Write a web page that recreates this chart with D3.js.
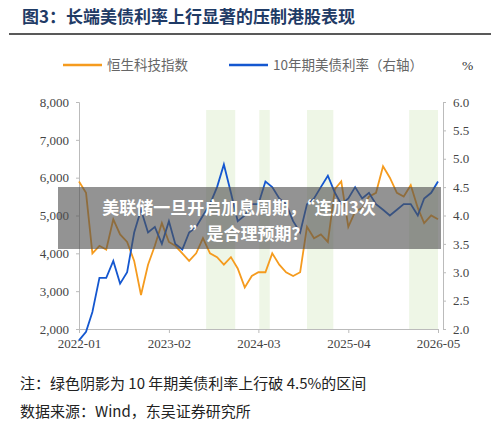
<!DOCTYPE html>
<html><head><meta charset="utf-8">
<script src="https://cdn.jsdelivr.net/npm/d3@7"></script>
<style>body{margin:0;background:#fff}svg{display:block}</style>
</head><body>
<svg id="chart" width="500" height="438"></svg>
<script>
// monthly readings, 2022-01 .. 2026-05
var months = d3.range(53).map(function(i){ return new Date(2022, i, 1); });
var hstech = [5900,5600,4000,4200,4100,4900,4500,4300,3800,2900,3700,4200,4800,4300,4200,4000,3800,4000,4400,4000,3900,3700,3900,3600,3100,3400,3500,3500,4000,3700,3500,3400,3500,4700,4400,4500,4300,5700,5900,4700,5100,5200,5500,5600,6300,6000,5600,5500,5800,5200,4800,5000,4900];
var ust10y = [1.8,1.95,2.3,2.9,2.9,3.2,2.8,3.0,3.7,4.1,3.7,3.8,3.5,3.9,3.5,3.4,3.7,3.8,4.0,4.2,4.5,4.9,4.4,3.9,4.0,4.2,4.2,4.6,4.5,4.3,4.2,3.9,3.7,4.2,4.3,4.5,4.7,4.4,4.2,4.3,4.5,4.3,4.4,4.2,4.1,4.0,4.1,4.2,4.2,4.0,4.3,4.4,4.6];
var bands = [["2023-07-15","2023-11-20"],["2024-03-05","2024-04-20"],["2024-10-01","2025-01-25"],["2025-12-25","2026-05-01"]];
var xTicks = ["2022-01","2023-02","2024-03","2025-04","2026-05"];
var leftTicks = [2000,3000,4000,5000,6000,7000,8000];
var rightTicks = [2.0,2.5,3.0,3.5,4.0,4.5,5.0,5.5,6.0];

var svg = d3.select("#chart");
var serif = "'Liberation Serif','DejaVu Serif',serif";
var cjk = "'Noto Sans CJK SC',sans-serif";

svg.append("text").attr("x",22).attr("y",23).text("图3：长端美债利率上行显著的压制港股表现")
  .attr("font-family",cjk).attr("font-weight","bold").attr("font-size",17).attr("fill","#1f3b66");
svg.append("line").attr("x1",9).attr("x2",491).attr("y1",34).attr("y2",34).attr("stroke","#222").attr("stroke-width",1.5);

// legend
var lg = svg.append("g").attr("font-family",cjk).attr("font-size",13.5).attr("fill","#666");
lg.append("line").attr("x1",63).attr("x2",102).attr("y1",65).attr("y2",65).attr("stroke","#f59b1e").attr("stroke-width",2.5);
lg.append("text").attr("x",107).attr("y",70).text("恒生科技指数");
lg.append("line").attr("x1",229).attr("x2",268).attr("y1",65).attr("y2",65).attr("stroke","#1457d0").attr("stroke-width",2.5);
lg.append("text").attr("x",273).attr("y",70).text("10年期美债利率（右轴）");
lg.append("text").attr("x",462).attr("y",70).text("%").attr("font-family",serif).attr("fill","#333");

var x = d3.scaleTime().domain([new Date(2022,0,1), new Date(2026,4,1)]).range([79,438]);
var yL = d3.scaleLinear().domain([2000,8000]).range([329,102]);
var yR = d3.scaleLinear().domain([2,6]).range([329,102]);

svg.append("g").selectAll("rect").data(bands).join("rect")
  .attr("x",function(d){return x(new Date(d[0]));})
  .attr("width",function(d){return x(new Date(d[1]))-x(new Date(d[0]));})
  .attr("y",110).attr("height",219).attr("fill","#eef6e6");

var axL = svg.append("g").attr("transform","translate(79,0)")
  .call(d3.axisLeft(yL).tickValues(leftTicks).tickFormat(d3.format(",")).tickSize(3));
var axR = svg.append("g").attr("transform","translate(443,0)")
  .call(d3.axisRight(yR).tickValues(rightTicks).tickFormat(d3.format(".1f")).tickSize(3));
var axB = svg.append("g").attr("transform","translate(0,329)")
  .call(d3.axisBottom(x).tickValues(xTicks.map(function(s){return new Date(s+"-01T00:00");}))
  .tickFormat(d3.timeFormat("%Y-%m")).tickSize(4));
[axL,axR,axB].forEach(function(a){
  a.selectAll("path,line").attr("stroke","#bbb");
  a.selectAll("text").attr("font-family",serif).attr("font-size",13).attr("fill","#444");
});
axL.selectAll("text").attr("dx",-4);
axR.selectAll("text").attr("dx",4);
axB.selectAll("text").attr("dy",12);

svg.append("path").datum(hstech)
  .attr("d",d3.line().x(function(d,i){return x(months[i]);}).y(function(d){return yL(d);}))
  .attr("fill","none").attr("stroke","#f59b1e").attr("stroke-width",1.8);
svg.append("path").datum(ust10y)
  .attr("d",d3.line().x(function(d,i){return x(months[i]);}).y(function(d){return yR(d);}))
  .attr("fill","none").attr("stroke","#1457d0").attr("stroke-width",1.8);

// overlay banner
svg.append("rect").attr("x",58).attr("y",187).attr("width",383).attr("height",62).attr("fill","rgba(80,80,80,0.62)");
var bt = svg.append("g").attr("font-family",cjk).attr("font-weight","bold").attr("font-size",17).attr("fill","#fff").attr("text-anchor","middle");
bt.append("text").attr("x",239).attr("y",214).text("美联储一旦开启加息周期，“连加3次");
bt.append("text").attr("x",249).attr("y",240).text("”是合理预期？");

var nt = svg.append("g").attr("font-family",cjk).attr("font-size",15).attr("fill","#222");
nt.append("text").attr("x",20).attr("y",389).text("注：绿色阴影为 10 年期美债利率上行破 4.5%的区间");
nt.append("text").attr("x",20).attr("y",417).text("数据来源：Wind，东吴证券研究所");
</script>
</body></html>
